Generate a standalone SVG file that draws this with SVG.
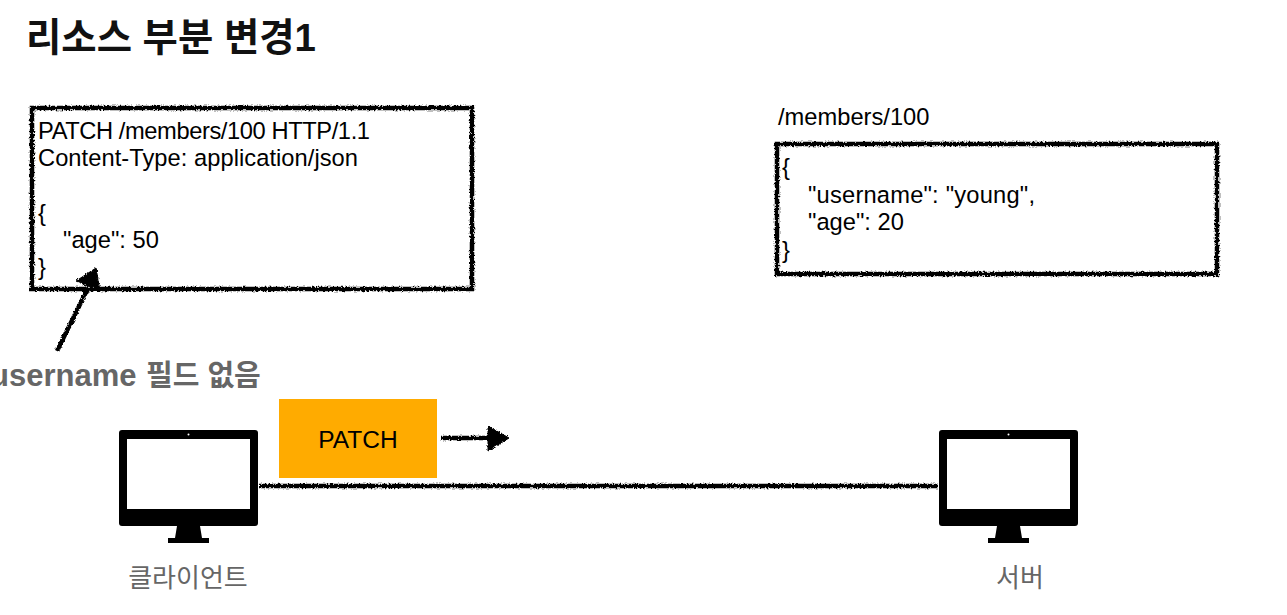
<svg xmlns="http://www.w3.org/2000/svg" width="1287" height="615" viewBox="0 0 1287 615">
<defs>
<filter id="rough" x="-5%" y="-5%" width="110%" height="110%">
<feTurbulence type="fractalNoise" baseFrequency="0.55" numOctaves="2" seed="4" result="n"/>
<feDisplacementMap in="SourceGraphic" in2="n" scale="4" xChannelSelector="R" yChannelSelector="G"/>
</filter>
<filter id="roughWide" filterUnits="userSpaceOnUse" x="0" y="0" width="1287" height="615">
<feTurbulence type="fractalNoise" baseFrequency="0.55" numOctaves="2" seed="9" result="n"/>
<feDisplacementMap in="SourceGraphic" in2="n" scale="4" xChannelSelector="R" yChannelSelector="G"/>
</filter>
<g id="monitor">
<path fill="#000" d="M3 0H136a3 3 0 0 1 3 3V93a3 3 0 0 1-3 3H3a3 3 0 0 1-3-3V3a3 3 0 0 1 3-3Z"/>
<rect x="8" y="9" width="123" height="70" fill="#fff"/>
<circle cx="69.500" cy="4.500" r="1" fill="#fff"/>
<path fill="#000" d="M58 96H81L83 108H90V113H49V108H56Z"/>
</g>
</defs>
<style>
text{font-family:"Liberation Sans","Noto Sans CJK KR",sans-serif;fill:#000}
.box{fill:#fff;stroke:#000;stroke-width:4.500;filter:url(#rough)}
.line{fill:none;stroke:#000;stroke-width:4.500;filter:url(#roughWide)}
.head{fill:#000;stroke:#000;stroke-width:1;filter:url(#roughWide)}
.body{font-size:23.700px}
</style>
<rect width="1287" height="615" fill="#fff"/>
<text x="26" y="51" font-size="38.400" font-weight="700" style="fill:#111">리소스 부분 변경1</text>
<g id="request">
<rect class="box" x="32" y="108" width="440" height="181"/>
<text class="body" x="38" y="139" textLength="332" lengthAdjust="spacing">PATCH /members/100 HTTP/1.1</text>
<text class="body" x="38" y="166" textLength="320" lengthAdjust="spacing">Content-Type: application/json</text>
<text class="body" x="38" y="221">{</text>
<text class="body" x="63" y="248">"age": 50</text>
<text class="body" x="38" y="275">}</text>
</g>
<g id="resource">
<text class="body" x="778" y="125">/members/100</text>
<rect class="box" x="777" y="144" width="440" height="130"/>
<text class="body" x="782" y="175">{</text>
<text class="body" x="808" y="203" textLength="227" lengthAdjust="spacing">"username": "young",</text>
<text class="body" x="808" y="230">"age": 20</text>
<text class="body" x="782" y="258">}</text>
</g>
<g id="note">
<text y="386" font-weight="700" style="fill:#666"><tspan x="-10" font-size="31">username</tspan><tspan x="146" font-size="29">필드 없음</tspan></text>
</g>
<g id="patch">
<rect x="279" y="399" width="158" height="79" fill="#ffab00"/>
<text x="358" y="448" font-size="24.500" text-anchor="middle">PATCH</text>
</g>
<g id="client">
<use href="#monitor" x="119" y="430"/>
<text x="188" y="587" font-size="26" text-anchor="middle" style="fill:#666">클라이언트</text>
</g>
<g id="server">
<use href="#monitor" x="939" y="430"/>
<text x="1020" y="587" font-size="26" text-anchor="middle" style="fill:#666">서버</text>
</g>
<g id="connectors">
<path class="line" d="M259 486H938"/>
<path class="line" d="M441 438H490"/>
<path class="head" d="M488 426L509 438L488 451Z"/>
<path class="line" d="M57 351L88 288"/>
<path class="head" d="M76 281L96 268L100 291Z"/>
</g>
</svg>
